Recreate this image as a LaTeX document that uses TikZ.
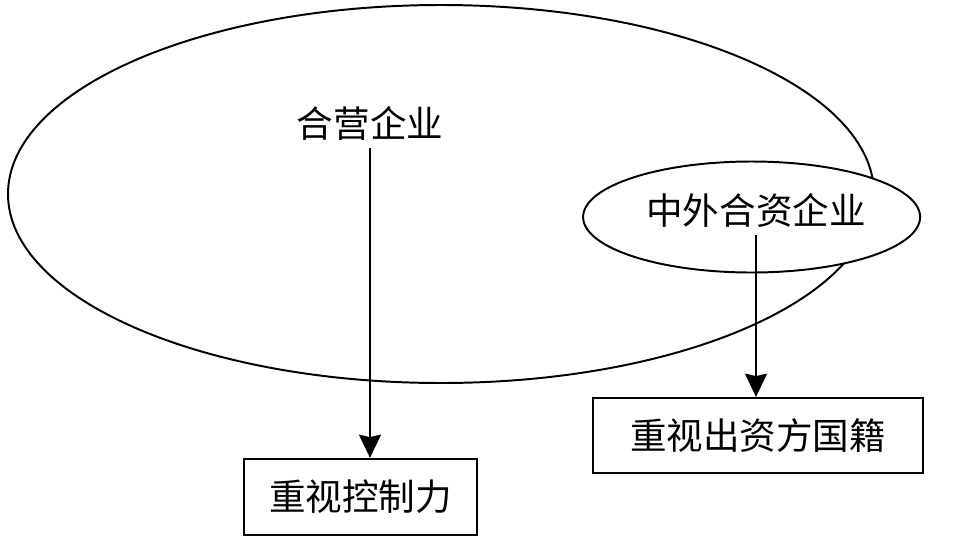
\documentclass[tikz,border=0pt]{standalone}
\usepackage{fontspec}
\newfontfamily\cjk{Noto Sans CJK SC}
\usepackage{xcolor}
\usetikzlibrary{shapes.geometric,arrows.meta}

\begin{document}
\begin{tikzpicture}[
    oval/.style={ellipse, draw, line width=1.4pt, inner sep=0pt},
    label/.style={font=\cjk\fontsize{26}{30}\selectfont, inner sep=0pt, minimum height=1.25cm},
    box/.style={draw, line width=1.6pt, font=\cjk\fontsize{26}{30}\selectfont, inner sep=0pt},
    arrow/.style={-{Stealth[length=0.58cm, width=0.55cm, inset=0.06cm]}, line width=1.4pt}
]
    \useasboundingbox (0,0) rectangle (24.275,-13.85);
    \node[oval, minimum width=21.65cm, minimum height=9.45cm] (jv) at (11.025,-4.85) {};
    \node[oval, fill=white, minimum width=8.425cm, minimum height=2.775cm] (sino) at (18.79,-5.425) {};

    \node[label] (hy) at (9.25,-3.075) {合营企业};
    \node[label] (zw) at (18.9,-5.25) {中外合资企业};

    \node[box, minimum width=5.825cm, minimum height=1.9cm] (kz) at (9.0125,-12.425) {重视控制力};
    \node[box, minimum width=8.25cm, minimum height=1.875cm] (gj) at (18.95,-10.8875) {重视出资方国籍};

    \draw[arrow] (hy.south) -- (hy.south |- kz.north);
    \draw[arrow] (zw.south) -- (zw.south |- gj.north);
\end{tikzpicture}
\end{document}
